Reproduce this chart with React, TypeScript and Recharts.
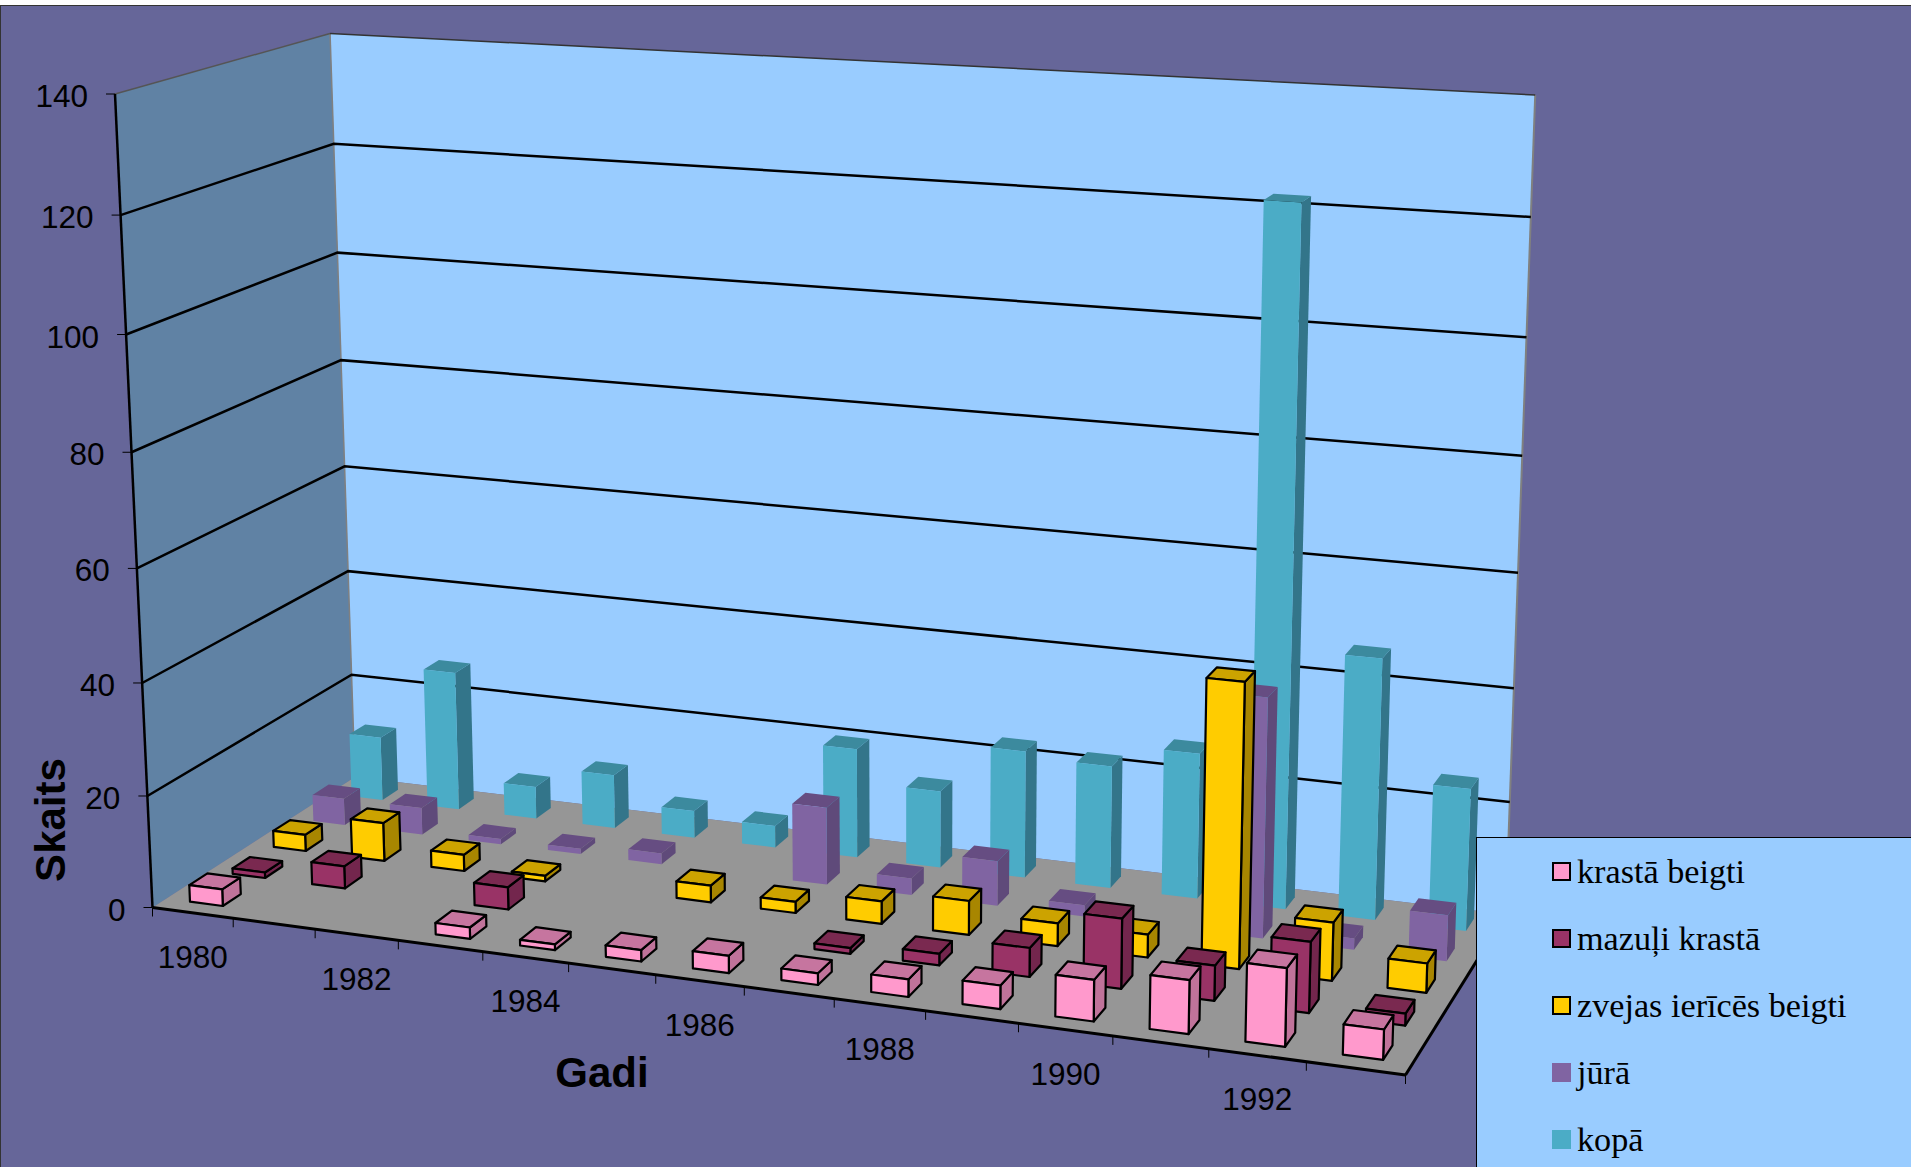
import React from 'react';
import { BarChart, Bar, XAxis, YAxis, CartesianGrid, Legend, Customized } from 'recharts';

const W = 1911;
const H = 1167;
const MARGIN = 100;
const PLOT_W = W - MARGIN * 2;
const PLOT_H = H - MARGIN * 2;
const AXIS_FONT = '"Liberation Sans", Arial, sans-serif';

const years = ['1980', '1981', '1982', '1983', '1984', '1985', '1986', '1987', '1988', '1989', '1990', '1991', '1992', '1993'];
const yTicks = [0, 20, 40, 60, 80, 100, 120, 140];

const krastaBeigti = [3, null, null, 2, 1, 2, 3, 2, 3, 4, 7, 9, 13, 5];
const mazuliKrasta = [1, 4, null, 4, null, null, null, 1, 2, 5, 12, 6, 12, 2];
const zvejasIerices = [3, 7, 3, 1, null, 3, 2, 4, 6, 4, 4, 49, 10, 5];
const jura = [5, 5, 1, 1, 2, null, 14, 3, 8, 2, null, 42, 2, 8];
const kopa = [12, 26, 6, 10, 5, 4, 20, 14, 23, 22, 26, 122, 46, 25];

const seriesList = [
  { key: 'krastaBeigti', name: 'krastā beigti', values: krastaBeigti, face: '#FF99CC', top: '#C6759F', side: '#C0739A', stroke: '#000' },
  { key: 'mazuliKrasta', name: 'mazuļi krastā', values: mazuliKrasta, face: '#993366', top: '#7A2950', side: '#73264D', stroke: '#000' },
  { key: 'zvejasIerices', name: 'zvejas ierīcēs beigti', values: zvejasIerices, face: '#FFCC00', top: '#CCA300', side: '#A88600', stroke: '#000' },
  { key: 'jura', name: 'jūrā', values: jura, face: '#8064A2', top: '#664D82', side: '#5F4A7A', stroke: 'none' },
  { key: 'kopa', name: 'kopā', values: kopa, face: '#4BACC6', top: '#3C8A9E', side: '#33758A', stroke: 'none' },
];

const chartData = years.map((year, i) => {
  const row: Record<string, any> = { year };
  seriesList.forEach(s => { row[s.key] = s.values[i]; });
  return row;
});

// Excel style 3D box: u along years, v up the value axis, w into the picture
const O = [152.5, 907.5];
const U = [1405.5, 1075];
const V = [115, 94];
const D = [355, 777];
const PA = -0.105;
const PB = -0.047;
const PC = 0.098;

const project = (u: number, v: number, w: number) => {
  const den = 1 + PA * u + PB * v + PC * w;
  const calc = (i: number) =>
    (O[i] + (U[i] * (1 + PA) - O[i]) * u + (V[i] * (1 + PB) - O[i]) * v + (D[i] * (1 + PC) - O[i]) * w) / den;
  return [calc(0), calc(1)];
};

const poly = (corners: number[][]) =>
  corners.map(c => project(c[0], c[1], c[2]).map(n => n.toFixed(1)).join(',')).join(' ');

const toU = (x: number) => (x - MARGIN) / PLOT_W;
const toV = (y: number) => (MARGIN + PLOT_H - y) / PLOT_H;

const BAR_DEPTH = 0.042;

const makeBox = (rowIndex: number) => (props: any) => {
  const s = seriesList[rowIndex];
  if (props.payload[s.key] == null) return null;
  const u0 = toU(props.x);
  const u1 = toU(props.x + props.width);
  const v1 = toV(props.y);
  const center = (rowIndex + 0.5) / seriesList.length + 0.005;
  const w0 = center - BAR_DEPTH;
  const w1 = center + BAR_DEPTH;
  const sw = s.stroke === 'none' ? 0 : 2.2;
  return (
    <g stroke={s.stroke} strokeWidth={sw} strokeLinejoin="round">
      <polygon points={poly([[u1, 0, w0], [u1, 0, w1], [u1, v1, w1], [u1, v1, w0]])} fill={s.side} />
      <polygon points={poly([[u0, v1, w0], [u1, v1, w0], [u1, v1, w1], [u0, v1, w1]])} fill={s.top} />
      <polygon points={poly([[u0, 0, w0], [u1, 0, w0], [u1, v1, w0], [u0, v1, w0]])} fill={s.face} />
    </g>
  );
};

const pointLine = (a: number[], b: number[]) => ({ x1: a[0], y1: a[1], x2: b[0], y2: b[1] });

const Walls = () => (
  <g>
    <polygon points={poly([[0, 0, 0], [0, 1, 0], [0, 1, 1], [0, 0, 1]])} fill="#6082A4" />
    <polygon points={poly([[0, 0, 1], [1, 0, 1], [1, 1, 1], [0, 1, 1]])} fill="#99CCFF" />
    <polygon points={poly([[0, 0, 0], [1, 0, 0], [1, 0, 1], [0, 0, 1]])} fill="#969696" />
    <line {...pointLine(project(0, 0, 1), project(0, 1, 1))} stroke="#808080" strokeWidth={1.5} />
    <line {...pointLine(project(1, 0, 1), project(1, 1, 1))} stroke="#808080" strokeWidth={2} />
    <line {...pointLine(project(0, 1, 0), project(0, 1, 1))} stroke="#555" strokeWidth={1.5} />
    <line {...pointLine(project(0, 1, 1), project(1, 1, 1))} stroke="#333" strokeWidth={1.5} />
    <line {...pointLine(project(0, 0, 0), project(0, 1, 0))} stroke="#000" strokeWidth={2.5} />
    <line {...pointLine(project(0, 0, 0), project(1, 0, 0))} stroke="#000" strokeWidth={3} />
    <line {...pointLine(project(1, 0, 0), project(1, 0, 1))} stroke="#000" strokeWidth={3} />
    <text x={50} y={820} transform="rotate(-90 50 820)" textAnchor="middle" dominantBaseline="central"
      fontFamily={AXIS_FONT} fontSize={42} fontWeight="bold" fill="#000">Skaits</text>
    <text x={602} y={1072} textAnchor="middle" dominantBaseline="central"
      fontFamily={AXIS_FONT} fontSize={42} fontWeight="bold" fill="#000">Gadi</text>
  </g>
);

const GridLine = (props: any) => {
  const v = toV(props.y1);
  if (v < 0.001 || v > 0.999) return <g key={props.key} />;
  const a = project(0, v, 0);
  const b = project(0, v, 1);
  const c = project(1, v, 1);
  return (
    <polyline key={props.key} points={`${a[0]},${a[1]} ${b[0]},${b[1]} ${c[0]},${c[1]}`}
      fill="none" stroke="#000" strokeWidth={2.5} />
  );
};

const YearTick = (props: any) => {
  const { x, index, payload } = props;
  const uc = toU(x);
  const step = 1 / years.length;
  const left = project(uc - step / 2, 0, 0);
  const right = project(uc + step / 2, 0, 0);
  const mid = project(uc, 0, 0);
  const isLast = index === years.length - 1;
  return (
    <g>
      <line x1={left[0]} y1={left[1]} x2={left[0]} y2={left[1] + 9} stroke="#000" strokeWidth={1} />
      {isLast && <line x1={right[0]} y1={right[1]} x2={right[0]} y2={right[1] + 9} stroke="#000" strokeWidth={1} />}
      {index % 2 === 0 && (
        <text x={mid[0]} y={mid[1] + 44} textAnchor="middle" dominantBaseline="central"
          fontFamily={AXIS_FONT} fontSize={31.5} fill="#000">{payload.value}</text>
      )}
    </g>
  );
};

const ValueTick = (props: any) => {
  const p = project(0, toV(props.y), 0);
  return (
    <g>
      <line x1={p[0] - 9} y1={p[1]} x2={p[0]} y2={p[1]} stroke="#000" strokeWidth={1} />
      <text x={p[0] - 27} y={p[1] + 2} textAnchor="end" dominantBaseline="central"
        fontFamily={AXIS_FONT} fontSize={31.5} fill="#000">{props.payload.value}</text>
    </g>
  );
};

const LegendBox = () => (
  <div style={{ width: 435, height: 330, paddingTop: 0 }}>
    {seriesList.map(s => (
      <div key={s.key} style={{ display: 'flex', alignItems: 'center', height: 67, marginLeft: 75 }}>
        <span style={{
          display: 'inline-block', boxSizing: 'border-box', width: 19, height: 19, background: s.face,
          border: s.stroke === 'none' ? 'none' : '2.5px solid #000', marginRight: 6,
        }} />
        <span style={{ fontFamily: '"Liberation Serif", "Times New Roman", serif', fontSize: 34.2, color: '#000' }}>{s.name}</span>
      </div>
    ))}
  </div>
);

export default function App() {
  const back = seriesList.map((s, i) => ({ s, i })).reverse();
  return (
    <div style={{ position: 'absolute', left: 0, top: 0, width: W, height: H, background: '#fff', overflow: 'hidden' }}>
      <div style={{ position: 'absolute', left: 0, top: 5, width: W, height: H - 5, boxSizing: 'border-box', background: '#666699', borderTop: '1px solid #333', borderLeft: '1px solid #333' }} />
      <BarChart width={W} height={H} data={chartData} barCategoryGap="29.5%"
        margin={{ top: MARGIN, right: MARGIN, bottom: MARGIN - 1, left: MARGIN - 1 }}
        style={{ position: 'absolute', left: 0, top: 0 }}>
        <Customized component={Walls} />
        <CartesianGrid vertical={false} horizontal={GridLine} zIndex={1} />
        {back.map(({ s, i }) => (
          <XAxis key={s.key} xAxisId={i === 4 ? 0 : i + 1} dataKey="year" height={i === 4 ? 1 : 0} hide={i !== 4}
            axisLine={false} tickLine={false} interval={0} tick={YearTick} />
        ))}
        <YAxis width={1} domain={[0, 140]} ticks={yTicks} axisLine={false} tickLine={false} tick={ValueTick} />
        {back.map(({ s, i }) => (
          <Bar key={s.key} xAxisId={i === 4 ? 0 : i + 1} dataKey={s.key} name={s.name} fill={s.face}
            isAnimationActive={false} shape={makeBox(i)} />
        ))}
        <Legend layout="vertical" align="center" verticalAlign="middle" content={LegendBox}
          wrapperStyle={{ position: 'absolute', left: 1476, top: 837, width: 435, height: 330, background: '#99CCFF', borderLeft: '1px solid #000', borderTop: '1px solid #000', boxSizing: 'border-box', paddingTop: 0 }} />
      </BarChart>
    </div>
  );
}
